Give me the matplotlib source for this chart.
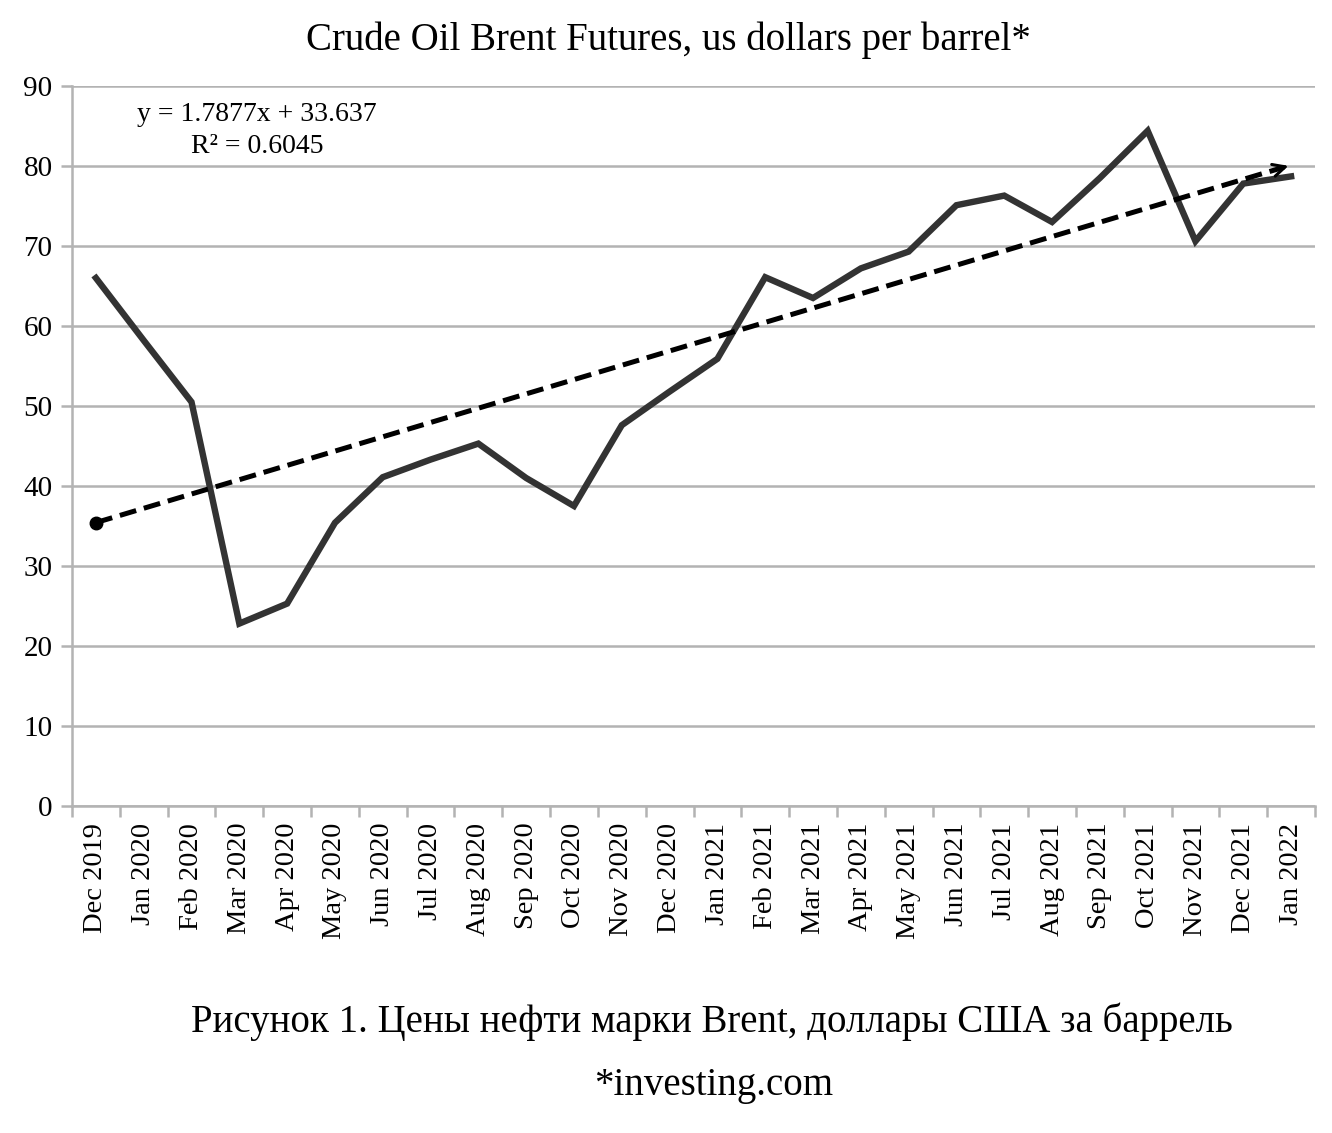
import matplotlib
matplotlib.use("Agg")
import matplotlib.pyplot as plt
import numpy as np

months = ["Dec 2019", "Jan 2020", "Feb 2020", "Mar 2020", "Apr 2020", "May 2020",
          "Jun 2020", "Jul 2020", "Aug 2020", "Sep 2020", "Oct 2020", "Nov 2020",
          "Dec 2020", "Jan 2021", "Feb 2021", "Mar 2021", "Apr 2021", "May 2021",
          "Jun 2021", "Jul 2021", "Aug 2021", "Sep 2021", "Oct 2021", "Nov 2021",
          "Dec 2021", "Jan 2022"]
prices = [66.0, 58.2, 50.5, 22.8, 25.3, 35.4, 41.1, 43.3, 45.3, 41.0, 37.5, 47.6,
          51.8, 55.9, 66.1, 63.5, 67.2, 69.3, 75.1, 76.3, 73.0, 78.5, 84.4, 70.6,
          77.8, 78.7]
trend_slope = 1.7877
trend_intercept = 33.637
trend_r2 = 0.6045

plt.rcParams['font.family'] = ['Liberation Serif', 'DejaVu Serif']

fig = plt.figure(figsize=(13.32, 11.33), dpi=100)
ax = fig.add_axes([72/1332, 1-806/1133, (1315-72)/1332, (806-86)/1133])

x = np.arange(len(months))
grid_c = '#b3b3b3'

ax.plot(x, prices, color='#333333', lw=4.6, solid_joinstyle='miter', zorder=3)

trend = trend_slope * (x + 1) + trend_intercept
ax.plot(x[:-1].tolist() + [x[-1] - 0.15], trend[:-1].tolist() + [trend[-1] - 0.15*trend_slope],
        color='black', lw=3.6, ls=(0, (3.4, 1.6)), zorder=4)
ax.plot([x[0]], [trend[0]], 'o', color='black', ms=9, zorder=5)
ax.annotate('', xy=(x[-1], trend[-1]), xytext=(x[-1] - 0.4, trend[-1] - 0.4*trend_slope),
            arrowprops=dict(arrowstyle='->', color='black', lw=2.2, mutation_scale=22), zorder=5)

ax.text(3.37, 86.4, f"y = {trend_slope}x + {trend_intercept}", ha='center', va='center', fontsize=20)
ax.text(3.37, 82.4, f"R² = {trend_r2}", ha='center', va='center', fontsize=20)

ax.set_xlim(-0.5, len(months) - 0.5)
ax.set_ylim(0, 90)
ax.set_yticks(np.arange(0, 91, 10))
ax.grid(axis='y', color=grid_c, lw=1.8)
ax.set_axisbelow(True)

ax.set_xticks(x)
ax.set_xticklabels(months, rotation=90, fontsize=20.5)
ax.set_xticks(np.arange(-0.5, len(months), 1), minor=True)
ax.tick_params(axis='x', which='major', length=0, pad=12)
ax.tick_params(axis='x', which='minor', length=8, width=1.8, color=grid_c)
ax.tick_params(axis='y', length=8, width=1.8, color=grid_c, labelsize=21, pad=6)

for s in ['top', 'right']:
    ax.spines[s].set_visible(False)
for s in ['left', 'bottom']:
    ax.spines[s].set_color(grid_c)
    ax.spines[s].set_linewidth(1.8)

fig.text(668/1332, 1-40/1133, "Crude Oil Brent Futures, us dollars per barrel*",
         ha='center', va='center', fontsize=28)
fig.text(712/1332, 1-1022/1133, "Рисунок 1. Цены нефти марки Brent, доллары США за баррель",
         ha='center', va='center', fontsize=28)
fig.text(714/1332, 1-1085/1133, "*investing.com", ha='center', va='center', fontsize=28)

fig.savefig('out.png', dpi=100)
